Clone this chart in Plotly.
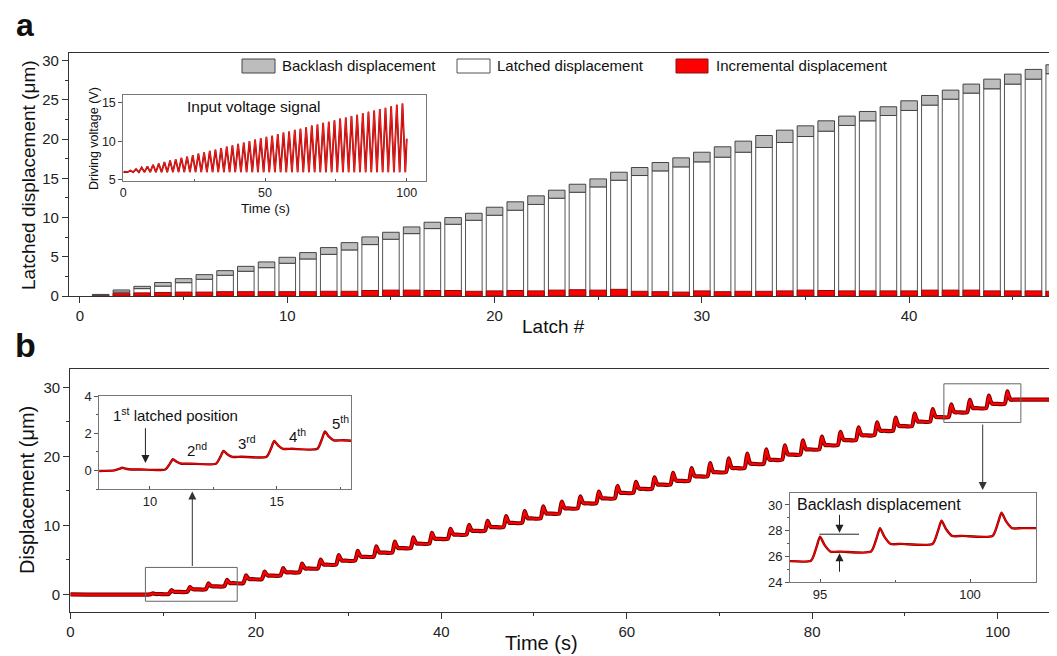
import plotly.graph_objects as go

W, H = 1057, 656
FONT = "Liberation Sans, Arial, sans-serif"

# ---------------- panel a : bar data ----------------
latch_no = list(range(1, 48))
latched = [0.10, 0.50, 0.94, 1.26, 1.70, 2.13, 2.64, 3.15, 3.61, 4.17,
           4.72, 5.31, 5.87, 6.55, 7.23, 7.95, 8.59, 9.14, 9.65, 10.29,
           10.93, 11.67, 12.46, 13.22, 13.90, 14.75, 15.35, 15.94, 16.45, 17.09,
           17.69, 18.32, 18.92, 19.56, 20.32, 21.00, 21.73, 22.32, 23.00, 23.64,
           24.32, 25.08, 25.85, 26.40, 27.00, 27.63, 28.32]
backlash = [0.10, 0.27, 0.29, 0.46, 0.51, 0.59, 0.59, 0.63, 0.73, 0.76,
            0.81, 0.86, 0.93, 0.98, 0.89, 0.85, 0.81, 0.85, 0.89, 1.02,
            1.07, 1.09, 1.02, 1.02, 1.02, 1.02, 1.02, 1.07, 1.15, 1.23,
            1.32, 1.41, 1.53, 1.57, 1.36, 1.32, 1.19, 1.19, 1.11, 1.23,
            1.23, 1.15, 1.15, 1.23, 1.27, 1.24, 1.14]
incremental = [0.05, 0.35, 0.40, 0.45, 0.50, 0.50, 0.55, 0.55, 0.55, 0.55,
               0.55, 0.60, 0.60, 0.70, 0.75, 0.75, 0.70, 0.70, 0.60, 0.65,
               0.70, 0.65, 0.75, 0.80, 0.75, 0.85, 0.60, 0.55, 0.50, 0.65,
               0.55, 0.60, 0.60, 0.65, 0.75, 0.70, 0.65, 0.65, 0.65, 0.65,
               0.75, 0.75, 0.75, 0.65, 0.65, 0.65, 0.60]

# ---------------- panel a inset : input voltage ----------------
v_start = (0.0, 5.95)
v_end = (100.0, 10.3)
v_base = 6.0
v_peak_t = [0.5, 2.5, 4.5, 6.5, 8.5, 10.5, 12.5, 14.5, 16.5, 18.5,
            20.5, 22.5, 24.5, 26.5, 28.5, 30.5, 32.5, 34.5, 36.5, 38.5,
            40.5, 42.5, 44.5, 46.5, 48.5, 50.5, 52.5, 54.5, 56.5, 58.5,
            60.5, 62.5, 64.5, 66.5, 68.5, 70.5, 72.5, 74.5, 76.5, 78.5,
            80.5, 82.5, 84.5, 86.5, 88.5, 90.5, 92.5, 94.5, 96.5, 98.5]
v_peak = [6.05, 6.2, 6.4, 6.6, 6.75, 6.95, 7.1, 7.3, 7.5, 7.65,
          7.85, 8.0, 8.2, 8.4, 8.55, 8.75, 8.9, 9.1, 9.3, 9.45,
          9.65, 9.8, 10.0, 10.2, 10.35, 10.55, 10.7, 10.9, 11.1, 11.25,
          11.45, 11.6, 11.8, 12.0, 12.15, 12.35, 12.5, 12.7, 12.9, 13.05,
          13.25, 13.4, 13.6, 13.8, 13.95, 14.15, 14.3, 14.5, 14.7, 14.85]
v_valley_t = [1.5, 3.5, 5.5, 7.5, 9.5, 11.5, 13.5, 15.5, 17.5, 19.5,
              21.5, 23.5, 25.5, 27.5, 29.5, 31.5, 33.5, 35.5, 37.5, 39.5,
              41.5, 43.5, 45.5, 47.5, 49.5, 51.5, 53.5, 55.5, 57.5, 59.5,
              61.5, 63.5, 65.5, 67.5, 69.5, 71.5, 73.5, 75.5, 77.5, 79.5,
              81.5, 83.5, 85.5, 87.5, 89.5, 91.5, 93.5, 95.5, 97.5, 99.5]

# ---------------- panel b : displacement trace ----------------
step_t = [8.9, 10.9, 12.9, 14.9, 16.9, 18.95, 20.95, 22.95, 25.0, 27.0,
          28.95, 31.0, 33.0, 35.0, 37.0, 39.0, 41.0, 43.0, 45.0, 47.0,
          49.0, 51.0, 53.0, 55.0, 57.0, 59.0, 61.0, 63.0, 65.0, 67.0,
          69.0, 71.0, 73.0, 75.05, 77.05, 79.0, 81.05, 83.05, 85.0, 87.0,
          89.0, 91.05, 93.0, 95.0, 97.0, 99.05, 101.05]
step_peak = [0.14, 0.60, 1.05, 1.58, 2.09, 2.75, 3.30, 3.80, 4.45, 5.05,
             5.70, 6.30, 6.95, 7.65, 8.25, 8.90, 9.50, 10.05, 10.65, 11.35,
             12.05, 12.75, 13.45, 14.20, 14.90, 15.70, 16.30, 16.95, 17.60, 18.30,
             19.00, 19.70, 20.40, 21.00, 21.60, 22.30, 22.85, 23.55, 24.20, 24.90,
             25.60, 26.20, 26.85, 27.54, 28.19, 28.78, 29.40]
step_level = [0.05, 0.36, 0.73, 1.16, 1.62, 2.20, 2.72, 3.20, 3.75, 4.30,
              4.88, 5.45, 6.05, 6.70, 7.35, 8.05, 8.65, 9.20, 9.75, 10.35,
              11.00, 11.70, 12.45, 13.20, 13.90, 14.70, 15.30, 15.90, 16.45, 17.10,
              17.70, 18.30, 18.90, 19.50, 20.25, 21.00, 21.62, 22.35, 23.05, 23.70,
              24.38, 25.02, 25.68, 26.38, 26.98, 27.60, 28.20]
trace_start = (0.0, 0.0)
trace_end_t = 108.0

# ---------------- build line vertices ----------------
vt, vv = [v_start[0]], [v_start[1]]
for tp, pk, tv in zip(v_peak_t, v_peak, v_valley_t):
    vt += [tp, tv]
    vv += [pk, v_base]
vt.append(v_end[0]); vv.append(v_end[1])

dt, dv = [trace_start[0]], [trace_start[1]]
prev = trace_start[1]
for ts, pk, lv in zip(step_t, step_peak, step_level):
    dt += [ts - 0.3, ts - 0.12, ts, ts + 0.15, ts + 0.35, ts + 0.7]
    dv += [prev, prev + 0.55 * (pk - prev), pk, lv + 0.45 * (pk - lv), lv, lv]
    prev = lv
dt.append(trace_end_t); dv.append(prev)

fig = go.Figure()

# bars (overlay): latched (white) -> incremental (red) -> backlash (gray on top)
fig.add_trace(go.Bar(x=latch_no, y=latched, width=0.8, name="Latched displacement",
                     marker=dict(color="white", line=dict(color="#555", width=1)),
                     xaxis="x", yaxis="y"))
fig.add_trace(go.Bar(x=latch_no, y=incremental, width=0.8, name="Incremental displacement",
                     marker=dict(color="#ff0000", line=dict(color="#8a1010", width=1)),
                     xaxis="x", yaxis="y"))
fig.add_trace(go.Bar(x=latch_no, y=backlash, base=latched, width=0.8, name="Backlash displacement",
                     marker=dict(color="#bdbdbd", line=dict(color="#444", width=1)),
                     xaxis="x", yaxis="y"))

# voltage inset
fig.add_trace(go.Scatter(x=vt, y=vv, mode="lines", line=dict(color="#9b0000", width=1.8),
                         xaxis="x3", yaxis="y3", hoverinfo="skip"))
fig.add_trace(go.Scatter(x=vt, y=vv, mode="lines", line=dict(color="#ff2020", width=0.9),
                         xaxis="x3", yaxis="y3"))

# main displacement trace + zoomed copies in the insets
for ax, ay, w1, w2 in [("x2", "y2", 4.2, 2.2), ("x4", "y4", 2.4, 1.3), ("x5", "y5", 2.4, 1.3)]:
    fig.add_trace(go.Scatter(x=dt, y=dv, mode="lines",
                             line=dict(color="#6e0000", width=w1, shape="spline", smoothing=0.6),
                             xaxis=ax, yaxis=ay, hoverinfo="skip"))
    fig.add_trace(go.Scatter(x=dt, y=dv, mode="lines",
                             line=dict(color="#ff0000", width=w2, shape="spline", smoothing=0.6),
                             xaxis=ax, yaxis=ay))

# the page places the figure 8 px in from the top-left corner: convert screen px -> paper
OFF = 8.0

def px(x):
    return (x - OFF) / W

def py(y):
    return 1 - (y - OFF) / H

main_ax = dict(showline=True, linecolor="#333", linewidth=1.3, ticks="outside", ticklen=6,
               tickwidth=1.2, tickcolor="#333", showgrid=False, zeroline=False,
               tickfont=dict(size=15, color="#222"))
inset_ax = dict(showline=True, linecolor="#777", linewidth=1, mirror=True, ticks="outside", ticklen=4,
                tickwidth=1, tickcolor="#555", showgrid=False, zeroline=False,
                tickfont=dict(size=13, color="#222"))
inset_xax = dict(inset_ax, ticks="inside", ticklen=3)

fig.update_layout(
    width=W, height=H, margin=dict(l=0, r=0, t=0, b=0, autoexpand=False),
    paper_bgcolor="white", plot_bgcolor="white", showlegend=False, barmode="overlay",
    font=dict(family=FONT, color="#222"),
    xaxis=dict(main_ax, domain=[px(69), 1], range=[-0.53, 47.52], anchor="y", mirror=True,
               tickvals=[0, 10, 20, 30, 40],
               minor=dict(ticks="outside", ticklen=3, tickcolor="#333", tick0=5, dtick=10)),
    yaxis=dict(main_ax, domain=[py(296), py(52.7)], range=[0, 31], anchor="x",
               tickvals=[0, 5, 10, 15, 20, 25, 30],
               minor=dict(ticks="outside", ticklen=3, tickcolor="#333", tick0=2.5, dtick=5)),
    xaxis2=dict(main_ax, domain=[px(70.3), 1], range=[0, 107.26], anchor="y2", mirror=True,
                tickvals=[0, 20, 40, 60, 80, 100],
                minor=dict(ticks="outside", ticklen=3, tickcolor="#333", tick0=10, dtick=20)),
    yaxis2=dict(main_ax, domain=[py(612.3), py(369.3)], range=[-2.6, 32.6], anchor="x2",
                tickvals=[0, 10, 20, 30],
                minor=dict(ticks="outside", ticklen=3, tickcolor="#333", tick0=5, dtick=10)),
    xaxis3=dict(inset_xax, domain=[px(123.3), px(426)], range=[0, 106.8], anchor="y3",
                tickvals=[0, 50, 100], tickfont=dict(size=12.5, color="#222"),
                minor=dict(ticks="inside", ticklen=2, tickcolor="#555", tick0=25, dtick=50)),
    yaxis3=dict(inset_ax, domain=[py(180.7), py(95)], range=[4.9, 15.95], anchor="x3",
                tickvals=[5, 10, 15], tickfont=dict(size=12.5, color="#222")),
    xaxis4=dict(inset_xax, domain=[px(99.3), px(351)], range=[8, 17.93], anchor="y4",
                tickvals=[10, 15],
                minor=dict(ticks="inside", ticklen=2, tickcolor="#555", tick0=12.5, dtick=5)),
    yaxis4=dict(inset_ax, domain=[py(489), py(396)], range=[-1, 4], anchor="x4",
                tickvals=[0, 2, 4],
                minor=dict(ticks="outside", ticklen=2, tickcolor="#555", tick0=1, dtick=2)),
    xaxis5=dict(inset_xax, domain=[px(790), px(1036)], range=[94, 102.2], anchor="y5",
                tickvals=[95, 100],
                minor=dict(ticks="inside", ticklen=2, tickcolor="#555", tick0=97.5, dtick=5)),
    yaxis5=dict(inset_ax, domain=[py(582.3), py(492.7)], range=[24, 30.95], anchor="x5",
                tickvals=[24, 26, 28, 30],
                minor=dict(ticks="outside", ticklen=2, tickcolor="#555", tick0=25, dtick=2)),
)

shapes = []
annotations = []

def ann(text, x, y, size, xref="paper", yref="paper", **kw):
    d = dict(text=text, x=x, y=y, xref=xref, yref=yref, showarrow=False,
             xanchor="center", yanchor="middle",
             font=dict(size=size, family=FONT, color="#111"))
    d.update(kw)
    annotations.append(d)

# panel letters
ann("<b>a</b>", px(25), py(25), 32)
ann("<b>b</b>", px(25), py(345), 34)

# axis titles
ann("Latched displacement (μm)", px(28), py(175), 19, textangle=-90)
ann("Latch #", px(553), py(326), 19)
ann("Displacement (μm)", px(27), py(490), 20, textangle=-90)
ann("Time (s)", px(541), py(643), 20)

# manual legend
legend_items = [("Backlash displacement", "#bdbdbd", "#444", 242, 275, 280),
                ("Latched displacement", "white", "#555", 457, 490, 495),
                ("Incremental displacement", "#ff0000", "#8a1010", 676, 708, 714)]
for label, fill, edge, x0, x1, xt in legend_items:
    shapes.append(dict(type="rect", xref="paper", yref="paper", x0=px(x0), x1=px(x1),
                       y0=py(73), y1=py(59), fillcolor=fill, line=dict(color=edge, width=1)))
    ann(label, px(xt), py(66), 15, xanchor="left")

# inset a texts
ann("Input voltage signal", 46.1, 14.45, 15.5, xref="x3", yref="y3")
ann("Time (s)", px(265), py(208), 13.5)
ann("Driving voltage (V)", px(94), py(139), 12.5, textangle=-90)

# inset b1 texts and arrows
ann("1<sup>st</sup> latched position", px(111), py(414), 15, xanchor="left")
annotations.append(dict(x=9.82, y=0.4, xref="x4", yref="y4", ax=9.82, ay=2.35, axref="x4", ayref="y4",
                        text="", showarrow=True, arrowhead=2, arrowsize=1.6, arrowwidth=1, arrowcolor="#222"))
ann("2<sup>nd</sup>", 11.85, 1.1, 15, xref="x4", yref="y4")
ann("3<sup>rd</sup>", 13.84, 1.5, 15, xref="x4", yref="y4")
ann("4<sup>th</sup>", 15.82, 1.9, 15, xref="x4", yref="y4")
ann("5<sup>th</sup>", 17.5, 2.6, 15, xref="x4", yref="y4")

# zoom boxes in main panel b
shapes.append(dict(type="rect", xref="x2", yref="y2", x0=8.1, x1=18.0, y0=-1.0, y1=3.9,
                   line=dict(color="#666", width=1)))
shapes.append(dict(type="rect", xref="x2", yref="y2", x0=94.2, x1=102.5, y0=24.9, y1=30.5,
                   line=dict(color="#666", width=1)))

# connecting arrows
annotations.append(dict(x=px(192.3), y=py(491.5), xref="paper", yref="paper", ax=0, ay=76,
                        text="", showarrow=True, arrowhead=2, arrowsize=1.6, arrowwidth=1, arrowcolor="#333"))
annotations.append(dict(x=px(982.7), y=py(490), xref="paper", yref="paper", ax=0, ay=-67,
                        text="", showarrow=True, arrowhead=2, arrowsize=1.6, arrowwidth=1, arrowcolor="#333"))

# inset b2 texts and arrows
ann("Backlash displacement", 96.97, 30.05, 16, xref="x5", yref="y5")
shapes.append(dict(type="line", xref="x5", yref="y5", x0=94.98, x1=96.3, y0=27.73, y1=27.73,
                   line=dict(color="#222", width=1)))
annotations.append(dict(x=95.65, y=27.85, xref="x5", yref="y5", ax=95.65, ay=29.35, axref="x5", ayref="y5",
                        text="", showarrow=True, arrowhead=2, arrowsize=1.6, arrowwidth=1, arrowcolor="#222"))
annotations.append(dict(x=95.65, y=26.25, xref="x5", yref="y5", ax=95.65, ay=24.7, axref="x5", ayref="y5",
                        text="", showarrow=True, arrowhead=2, arrowsize=1.6, arrowwidth=1, arrowcolor="#222"))

fig.update_layout(shapes=shapes, annotations=annotations)
fig.write_html("out.html")
